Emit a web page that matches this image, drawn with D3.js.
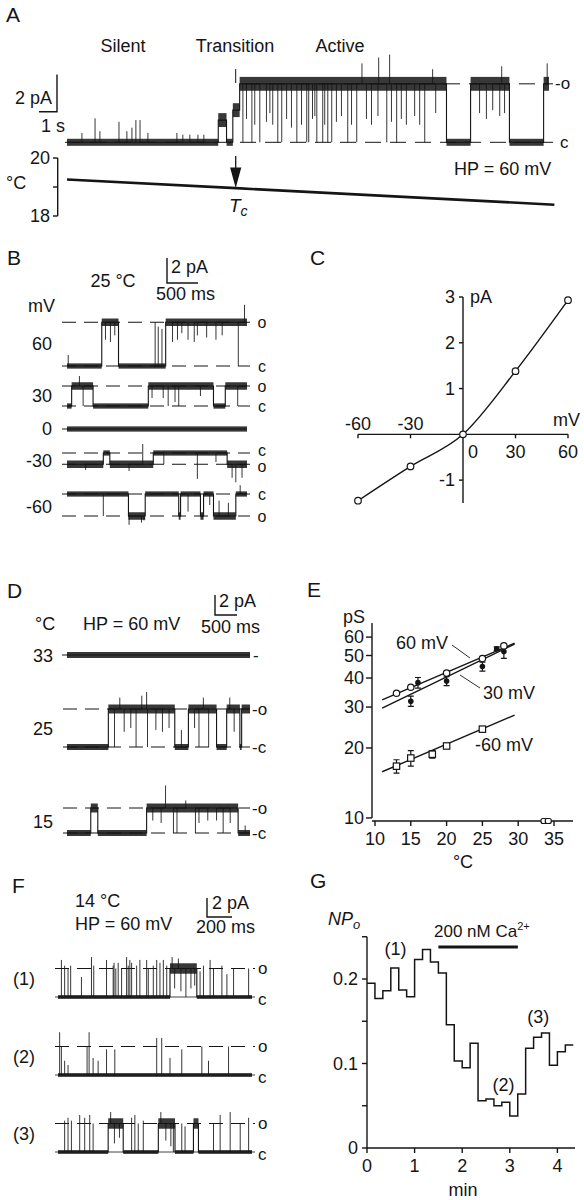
<!DOCTYPE html>
<html><head><meta charset="utf-8">
<script src="https://cdn.jsdelivr.net/npm/d3@7"></script>
<style>
body{margin:0;background:#fff}
svg{display:block}
text{font-family:"Liberation Sans",Arial,Helvetica,sans-serif;fill:#151515}
</style></head><body>
<svg id="fig" width="584" height="1200"></svg>
<script>
// ======================= DATA =======================
// Panel A — time in s; segments [start, end, level as fraction of open current]
const aOpenPA = 3.16;
const aStates = ["Silent", "Transition", "Active"];
const aSegments = [[0,8.41,0],[8.41,8.87,0.38],[8.87,9.22,0],[9.22,9.6,0.55],[9.6,21.1,1],[21.1,22.44,0],[22.44,24.6,1],[24.6,26.5,0],[26.5,26.8,1]];
// brief events [time, level reached (fraction of open)]
const aEvents = [[0.83,0.16],[1.56,0.41],[1.83,0.19],[2.89,0.35],[3.33,0.19],[3.61,0.25],[3.83,0.38],[4.06,0.38],[4.5,0.16],[6.11,0.16],[6.44,0.13],[6.83,0.13],[7.28,0.13],[7.61,0.13],
  [9.78,0],[10.28,0],[10.72,0],[11.72,0],[11.94,0],[12.78,0],[13.33,0],[13.44,0],[13.89,0],[14.22,0],[14.5,0],[14.72,0],[15.61,0],[16.11,0],[17.78,0],[18.33,0],[19.89,0],
  [9.98,0.4],[10.44,0.3],[11.09,0.35],[11.28,0.5],[11.44,0.3],[12.21,0.4],[12.48,0.25],[13.04,0.3],[13.65,0.4],[13.78,0.45],[14.33,0.3],[14.98,0.35],[15.26,0.45],[15.82,0.3],[16.65,0.4],[16.93,0.3],[17.29,0.45],[18.04,0.35],[18.59,0.4],[18.87,0.3],[19.33,0.45],[19.61,0.3],[20.5,0.5],[22.94,0.5],[23.32,0.4],[23.67,0.55],[24.06,0.45],[24.33,0.5],
  [16.4,1.35],[17.33,1.45],[17.94,1.5],[20.33,1.25],[24.17,1.3],[26.7,1.35]];
const aTempTime = [0, 9.39, 27.1];
const aTempC = [19.26, 18.96, 18.39];
const aTempTicks = [18, 19, 20];
const aTempLabels = [18, 20];

// Panel B — holding potentials (mV), unitary current (pA), time in s
const bVoltages = [60, 30, 0, -30, -60];
const bOpenPA = [3.5, 1.6, 0, -0.9, -1.76];
const bSeg60 = [[0,0.56,0],[0.56,0.83,1],[0.83,1.59,0],[1.59,2.9,1]];
const bSeg30 = [[0,0.075,0],[0.075,0.42,1],[0.42,1.31,0],[1.31,2.36,1],[2.36,2.55,0],[2.55,2.9,1]];
const bSeg0 = [[0,2.9,0]];
const bSegM30 = [[0,0.585,1],[0.585,0.69,0],[0.69,1.39,1],[1.39,2.58,0],[2.58,2.9,1]];
const bSegM60 = [[0,0.99,0],[0.99,1.26,1],[1.26,1.8,0],[1.8,1.83,1],[1.83,2.15,0],[2.15,2.2,1],[2.2,2.36,0],[2.36,2.72,1],[2.72,2.9,0]];
const bEv60 = [[0.02,0.25],[0.62,0.6],[0.7,0.55],[0.77,0.7],[1.42,1.0],[1.47,0.9],[1.53,0.85],[1.7,0.55],[1.78,0.6],[1.85,0.75],[1.95,0.6],[2.05,0.55],[2.1,0.7],[2.25,0.65],[2.4,0.6],[2.5,0.7],[2.76,0],[2.86,1.4]];
const bEv30 = [[0.2,1.5],[0.26,0],[1.37,0.4],[1.55,0.4],[1.63,0],[1.74,0.2],[1.8,0],[2.15,0.5],[2.75,0]];
const bEv0 = [];
const bEvM30 = [[0.3,1.5],[1.0,1.6],[1.22,-0.8],[1.56,1],[2.1,2.3],[2.4,0.8],[2.66,2.2],[2.72,2.6],[2.82,2.2]];
const bEvM60 = [[0.585,1.0],[1.0,1.4],[1.2,1.3],[1.24,1.2],[1.95,0.8],[2.3,0.5],[2.45,0.3],[2.6,0.4],[2.79,-0.4]];
const bSegments = [bSeg60, bSeg30, bSeg0, bSegM30, bSegM60];
const bEvents = [bEv60, bEv30, bEv0, bEvM30, bEvM60];

// Panel C — I/V relation
const cVoltage = [-60, -30, 0, 30, 60];
const cCurrent = [-1.45, -0.7, 0, 1.38, 2.93];
const cYTicks = [-1, 1, 2, 3];
const cXTicksAbove = [-60, -30];
const cXTicksBelow = [0, 30, 60];

// Panel D — temperatures (°C), unitary current (pA), time in s
const dTemps = [33, 25, 15];
const dOpenPA = [0, 3.8, 2.5];
const dSeg33 = [[0,4.16,0]];
const dSeg25 = [[0,0.94,0],[0.94,2.45,1],[2.45,2.76,0],[2.76,3.40,1],[3.40,3.63,0],[3.63,3.93,1],[3.93,3.97,0],[3.97,4.16,1]];
const dSeg15 = [[0,0.54,0],[0.54,0.70,1],[0.70,1.81,0],[1.81,3.89,1],[3.89,4.16,0]];
const dEv33 = [];
const dEv25 = [[1.08,0],[1.2,1.3],[1.3,0.4],[1.45,0.5],[1.57,0],[1.7,1.35],[1.81,1.45],[1.83,0],[2.02,0.45],[2.17,0.4],[2.32,0.5],[2.6,0.45],[2.9,0.5],[3.0,0],[3.1,1.3],[3.22,0],[3.7,1.3],[3.8,0.4]];
const dEv15 = [[1.95,0.5],[2.14,0.4],[2.24,1.9],[2.42,0],[2.5,0],[2.7,1.3],[2.92,0],[3.0,0.4],[3.2,0.5],[3.4,0.5],[3.55,0],[3.71,0.4],[4.05,0.3]];
const dSegments = [dSeg33, dSeg25, dSeg15];
const dEvents = [dEv33, dEv25, dEv15];

// Panel E — conductance (pS) vs temperature (°C)
const eTemp60 = [13, 15, 20, 25, 28];
const eG60 = [34.4, 36.5, 42, 48.5, 55];
const eTemp30 = [15, 16, 20, 25, 27, 28];
const eG30 = [31.8, 38.2, 38.8, 44.8, 53.5, 52];
const eErr30 = [1.6, 2, 1.7, 2, 1, 3.4];
const eTempM60 = [13, 15, 18, 20, 25];
const eGM60 = [16.7, 18.1, 18.8, 20.4, 24.1];
const eErrM60 = [1.1, 1.4, 0.7, 0, 0];
const eTempSilent = [33.6, 34.2];
const eGSilent = [9.7, 9.7];
const eFitT = [11, 29.5];
const eFit60 = [32.2, 56.5];
const eFit30 = [29.7, 56];
const eFitM60 = [15.8, 27.7];
const eXTicks = [10, 15, 20, 25, 30, 35];
const eYTicks = [10, 20, 30, 40, 50, 60];
const eSeriesNames = ["60 mV", "30 mV", "-60 mV"];

// Panel F — 14 °C, HP = 60 mV, time in s
const fLabels = ["(1)", "(2)", "(3)"];
const fOpenPA = 3.0;
const fSeg1 = [[0,0.893,0],[0.893,1.107,1],[1.107,1.547,0]];
const fSeg2 = [[0,1.547,0]];
const fSeg3 = [[0,0.4,0],[0.4,0.52,1],[0.52,0.8,0],[0.8,0.933,1],[0.933,1.08,0],[1.08,1.12,1],[1.12,1.547,0]];
const fEv1 = [[0.027,1.3],[0.053,1.1],[0.08,1.0],[0.101,1.1],[0.187,0.7],[0.267,1.4],[0.285,1.1],[0.387,1.3],[0.44,1.1],[0.447,1.2],[0.461,1.0],[0.48,1.2],[0.507,1.0],[0.547,1.4],[0.56,1.1],[0.573,1.3],[0.587,1.2],[0.627,1.1],[0.653,1.3],[0.707,1.3],[0.72,1.0],[0.76,1.1],[0.787,1.3],[0.813,1.2],[0.84,1.3],[0.867,1.1],
  [0.91,1.4],[0.93,0.3],[0.96,1.35],[0.98,0.2],[1.02,0],[1.06,0.3],[1.09,0.4],
  [1.133,0.9],[1.16,1.1],[1.213,1.3],[1.24,1.0],[1.307,1.1],[1.347,0.8],[1.4,1.0],[1.52,1.0]];
const fEv2 = [[0.013,1.5],[0.027,1.0],[0.053,0.5],[0.08,0.35],[0.232,1.0],[0.248,1.5],[0.28,0.6],[0.32,0.5],[0.387,0.9],[0.453,0.9],[0.787,1.3],[0.827,1.3],[0.893,0.6],[0.987,0.9],[1.147,1.0],[1.2,0.5],[1.36,1.0]];
const fEv3 = [[0.053,1.1],[0.08,1.2],[0.107,1.1],[0.173,1.3],[0.213,1.2],[0.253,1.3],[0.28,1.0],[0.42,1.4],[0.45,0.3],[0.49,0.5],[0.587,1.2],[0.613,1.3],[0.64,1.0],[0.68,1.1],[0.82,1.4],[0.86,0.4],[0.9,0.2],[0.92,0],[0.987,1.0],[1.013,0.9],[1.24,1.0],[1.293,1.3],[1.373,1.4],[1.453,1.0],[1.52,1.2]];
const fSegments = [fSeg1, fSeg2, fSeg3];
const fEvents = [fEv1, fEv2, fEv3];

// Panel G — NPo in 10-s bins (time in min)
const gBinStart = [0,0.167,0.333,0.5,0.667,0.833,1,1.167,1.333,1.5,1.667,1.833,2,2.167,2.333,2.5,2.667,2.833,3,3.167,3.333,3.5,3.667,3.833,4,4.167];
const gBinEnd = 4.333;
const gNPo = [0.195,0.177,0.186,0.213,0.187,0.179,0.223,0.235,0.220,0.207,0.146,0.103,0.095,0.124,0.056,0.058,0.050,0.054,0.038,0.064,0.118,0.131,0.136,0.098,0.114,0.122];
const gCaOn = [1.5, 3.17];
const gXTicks = [0, 1, 2, 3, 4];
const gYTicks = [0, 0.05, 0.1, 0.15, 0.2, 0.25];
const gYLabels = [0, 0.1, 0.2];
const gMarks = [["(1)", 0.6, 0.235], ["(2)", 2.87, 0.075], ["(3)", 3.6, 0.155]];

// ======================= DRAWING =======================
const INK = "#151515";
const svg = d3.select("#fig");

function txt(g, x, y, s, o = {}) {
  const t = g.append("text").attr("x", x).attr("y", y).text(s)
    .attr("font-size", o.size || 18)
    .attr("text-anchor", o.anchor || "start");
  if (o.italic) t.attr("font-style", "italic");
  if (o.mid) t.attr("dominant-baseline", "central");
  return t;
}
function path(g, d, w = 1.3) {
  return g.append("path").attr("d", d).attr("fill", "none").attr("stroke", INK).attr("stroke-width", w);
}
function hline(g, x1, x2, y, dash, w = 1) {
  const l = g.append("line").attr("x1", x1).attr("x2", x2).attr("y1", y).attr("y2", y)
    .attr("stroke", INK).attr("stroke-width", w);
  if (dash) l.attr("stroke-dasharray", dash);
  return l;
}
// single-channel trace: bands for noise, step line, brief events
function trace(g, xs, base, pxPerPA, amp, segs, events, nC, nO) {
  const ys = d3.scaleLinear().domain([0, 1]).range([base, base - pxPerPA]);
  const lev = f => f * amp;
  const noise = d => (d[2] !== 0 && amp !== 0) ? nO : nC;
  g.append("g").selectAll("rect").data(segs).join("rect")
    .attr("x", d => xs(d[0]))
    .attr("width", d => Math.max(0.6, xs(d[1]) - xs(d[0])))
    .attr("y", d => Math.min(ys(lev(d[2]) + noise(d) / 2), ys(lev(d[2]) - noise(d) / 2)))
    .attr("height", d => Math.abs(ys(noise(d)) - ys(0)))
    .attr("fill", INK).attr("opacity", 0.85);
  const pts = [];
  segs.forEach(d => { pts.push([d[0], lev(d[2])]); pts.push([d[1], lev(d[2])]); });
  g.append("path").attr("d", d3.line().x(p => xs(p[0])).y(p => ys(p[1]))(pts))
    .attr("fill", "none").attr("stroke", INK).attr("stroke-width", 1.1);
  g.append("g").selectAll("line").data(events).join("line")
    .attr("x1", d => xs(d[0])).attr("x2", d => xs(d[0]))
    .attr("y1", d => { const s = segs.find(s => d[0] >= s[0] && d[0] <= s[1]) || segs[0]; return ys(lev(s[2])); })
    .attr("y2", d => ys(lev(d[1])))
    .attr("stroke", INK).attr("stroke-width", 1).attr("opacity", 0.85);
  return y => ys(lev(y));
}
function scaleBar(g, x, yTop, yBot, xRight) {
  path(g, `M${x},${yTop}V${yBot}H${xRight}`, 1.4);
}

// ---------------- Panel A ----------------
{
  const g = svg.append("g");
  txt(g, 6, 22, "A", { size: 21 });
  const stateX = [123, 235, 340];
  aStates.forEach((s, i) => txt(g, stateX[i], 52, s, { anchor: "middle" }));
  g.append("line").attr("x1", 235.7).attr("x2", 235.7).attr("y1", 69).attr("y2", 83).attr("stroke", INK).attr("stroke-width", 1);
  scaleBar(g, 57, 74.5, 111.7, 39);
  txt(g, 15, 104, "2 pA");
  txt(g, 41, 132, "1 s");
  const xs = d3.scaleLinear().domain([0, 26.8]).range([67, 549]);
  const base = 142.3, ppa = 18.5;
  hline(g, 65, 553, base, "16,9", 1);
  hline(g, 244, 553, base - aOpenPA * ppa, "16,9", 1);
  trace(g, xs, base, ppa, aOpenPA, aSegments, aEvents, 0.38, 0.75);
  txt(g, 555, base - aOpenPA * ppa, "-o", { size: 17, mid: true });
  txt(g, 560, base, "c", { size: 17, mid: true });
  // temperature
  const yt = d3.scaleLinear().domain([18, 20]).range([216, 158]);
  g.append("line").attr("x1", 57.7).attr("x2", 57.7).attr("y1", yt(20)).attr("y2", yt(18)).attr("stroke", INK).attr("stroke-width", 1.4);
  aTempTicks.forEach(v => g.append("line").attr("x1", 53).attr("x2", 57.7).attr("y1", yt(v)).attr("y2", yt(v)).attr("stroke", INK).attr("stroke-width", 1.4));
  aTempLabels.forEach(v => txt(g, 50, yt(v), v, { anchor: "end", mid: true }));
  txt(g, 6, 182.5, "°C", { mid: true });
  const tempPts = aTempTime.map((t, i) => [t, aTempC[i]]);
  path(g, d3.line().x(p => xs(p[0])).y(p => yt(p[1]))(tempPts), 2.6);
  // Tc arrow
  g.append("line").attr("x1", 235.7).attr("x2", 235.7).attr("y1", 156).attr("y2", 168).attr("stroke", INK).attr("stroke-width", 1.3);
  g.append("path").attr("d", "M230.1,167.6L241.3,167.6L235.7,188Z").attr("fill", INK);
  const tc = txt(g, 229, 212, "T", { size: 19, italic: true });
  tc.append("tspan").attr("font-size", 14).attr("dy", 4).text("c");
  txt(g, 454, 175, "HP = 60 mV");
}

// ---------------- Panel B ----------------
{
  const g = svg.append("g");
  txt(g, 7, 265, "B", { size: 21 });
  txt(g, 113, 287, "25 °C", { anchor: "middle" });
  scaleBar(g, 167, 258, 283, 198);
  txt(g, 171, 273, "2 pA");
  txt(g, 156, 300, "500 ms");
  txt(g, 28, 312, "mV");
  const xs = d3.scaleLinear().domain([0, 2.9]).range([67, 247]);
  const bases = [366, 406, 429, 453, 494], ppa = 12.5;
  bVoltages.forEach((v, i) => {
    const amp = bOpenPA[i], b = bases[i];
    const oy = b - amp * ppa;
    if (amp !== 0) {
      hline(g, 62, 250, b, "14,8");
      hline(g, 62, 250, oy, "14,8");
      const tight = Math.abs(oy - b) < 15;
      txt(g, 262, oy + (tight ? 2 : 0), "o", { size: 16, anchor: "middle", mid: true });
      txt(g, 262, b - (tight ? 3 : 0), "c", { size: 16, anchor: "middle", mid: true });
    } else {
      hline(g, 62, 68, b, null);
    }
    trace(g, xs, b, ppa, amp, bSegments[i], bEvents[i], 0.42, 0.6);
    txt(g, 52, (b + oy) / 2 + (amp < 0 ? 2 : 0), v, { anchor: "end", mid: true });
  });
}

// ---------------- Panel C ----------------
{
  const g = svg.append("g");
  txt(g, 310, 265, "C", { size: 21 });
  const xs = d3.scaleLinear().domain([-60, 60]).range([358, 568]);
  const ys = d3.scaleLinear().domain([-1.5, 3]).range([503, 297]);
  g.append("line").attr("x1", xs(0)).attr("x2", xs(0)).attr("y1", ys(3)).attr("y2", ys(-1.5)).attr("stroke", INK).attr("stroke-width", 1.4);
  g.append("line").attr("x1", xs(-60)).attr("x2", xs(60)).attr("y1", ys(0)).attr("y2", ys(0)).attr("stroke", INK).attr("stroke-width", 1.4);
  cYTicks.forEach(v => {
    g.append("line").attr("x1", xs(0) - 4).attr("x2", xs(0)).attr("y1", ys(v)).attr("y2", ys(v)).attr("stroke", INK).attr("stroke-width", 1.4);
    txt(g, xs(0) - 8, ys(v), v, { anchor: "end", mid: true });
  });
  [...cXTicksAbove, ...cXTicksBelow].filter(v => v !== 0).forEach(v =>
    g.append("line").attr("x1", xs(v)).attr("x2", xs(v)).attr("y1", ys(0)).attr("y2", ys(0) + 4).attr("stroke", INK).attr("stroke-width", 1.4));
  cXTicksAbove.forEach(v => txt(g, xs(v), ys(0) - 4, v, { anchor: "middle" }));
  cXTicksBelow.forEach(v => txt(g, xs(v) + (v === 0 ? 10 : 0), ys(0) + 24, v, { anchor: "middle" }));
  txt(g, xs(0) + 7, ys(3), "pA", { mid: true });
  txt(g, 553, ys(0) - 8, "mV");
  const pts = cVoltage.map((v, i) => [v, cCurrent[i]]);
  path(g, d3.line().curve(d3.curveMonotoneX).x(p => xs(p[0])).y(p => ys(p[1]))(pts), 1.4);
  g.selectAll("circle.c").data(pts).join("circle").attr("class", "c")
    .attr("cx", p => xs(p[0])).attr("cy", p => ys(p[1])).attr("r", 3.3)
    .attr("fill", "#fff").attr("stroke", INK).attr("stroke-width", 1.2);
}

// ---------------- Panel D ----------------
{
  const g = svg.append("g");
  txt(g, 7, 598, "D", { size: 21 });
  scaleBar(g, 215, 595, 615, 237);
  txt(g, 219, 607, "2 pA");
  txt(g, 201, 633, "500 ms");
  txt(g, 35, 630, "°C");
  txt(g, 83, 630, "HP = 60 mV");
  const xs = d3.scaleLinear().domain([0, 4.16]).range([67, 250]);
  const bases = [655, 747, 833], ppa = 10;
  dTemps.forEach((v, i) => {
    const amp = dOpenPA[i], b = bases[i];
    const oy = b - amp * ppa;
    if (amp !== 0) {
      hline(g, 63, 250, b, "14,8");
      hline(g, 63, 250, oy, "14,8");
      txt(g, 252, oy, "-o", { size: 17, mid: true });
      txt(g, 252, b, "-c", { size: 17, mid: true });
    } else {
      hline(g, 62, 68, b, null);
      txt(g, 253, b, "-", { size: 17, mid: true });
    }
    trace(g, xs, b, ppa, amp, dSegments[i], dEvents[i], 0.6, 0.9);
    txt(g, 53, (b + oy) / 2 + 1, v, { anchor: "end", mid: true });
  });
}

// ---------------- Panel E ----------------
{
  const g = svg.append("g");
  txt(g, 307, 597, "E", { size: 21 });
  const xs = d3.scaleLinear().domain([10, 35]).range([375, 554]);
  const ys = d3.scaleLog().domain([9.7, 69]).range([821, 623]);
  g.append("line").attr("x1", 372).attr("x2", 372).attr("y1", 623).attr("y2", ys(10)).attr("stroke", INK).attr("stroke-width", 1.4);
  g.append("line").attr("x1", 372).attr("x2", 573).attr("y1", 821).attr("y2", 821).attr("stroke", INK).attr("stroke-width", 1.4);
  eYTicks.forEach(v => {
    g.append("line").attr("x1", 366).attr("x2", 372).attr("y1", ys(v)).attr("y2", ys(v)).attr("stroke", INK).attr("stroke-width", 1.4);
    txt(g, 364, ys(v), v, { anchor: "end", mid: true });
  });
  eXTicks.forEach(v => {
    g.append("line").attr("x1", xs(v)).attr("x2", xs(v)).attr("y1", 821).attr("y2", 826).attr("stroke", INK).attr("stroke-width", 1.4);
    txt(g, xs(v), 845, v, { anchor: "middle" });
  });
  txt(g, 463, 868, "°C", { anchor: "middle" });
  txt(g, 343, 623, "pS");
  // fit lines
  [eFit60, eFit30, eFitM60].forEach(f => {
    const pts = eFitT.map((t, i) => [t, f[i]]);
    path(g, d3.line().x(p => xs(p[0])).y(p => ys(p[1]))(pts), 1.4);
  });
  // error bars
  const err = (T, G, E) => T.forEach((t, i) => {
    if (!E[i]) return;
    const x = xs(t), y1 = ys(G[i] - E[i]), y2 = ys(G[i] + E[i]);
    path(g, `M${x},${y1}V${y2}M${x - 3},${y1}H${x + 3}M${x - 3},${y2}H${x + 3}`, 1.2);
  });
  err(eTemp30, eG30, eErr30);
  err(eTempM60, eGM60, eErrM60);
  // markers
  g.selectAll("rect.sq").data(eTempM60.map((t, i) => [t, eGM60[i]])).join("rect").attr("class", "sq")
    .attr("x", p => xs(p[0]) - 3.2).attr("y", p => ys(p[1]) - 3.2).attr("width", 6.4).attr("height", 6.4)
    .attr("fill", "#fff").attr("stroke", INK).attr("stroke-width", 1.2);
  g.selectAll("circle.o60").data(eTemp60.map((t, i) => [t, eG60[i]])).join("circle").attr("class", "o60")
    .attr("cx", p => xs(p[0])).attr("cy", p => ys(p[1])).attr("r", 3.2)
    .attr("fill", "#fff").attr("stroke", INK).attr("stroke-width", 1.2);
  g.selectAll("circle.f30").data(eTemp30.map((t, i) => [t, eG30[i]])).join("circle").attr("class", "f30")
    .attr("cx", p => xs(p[0])).attr("cy", p => ys(p[1])).attr("r", 2.8).attr("fill", INK);
  g.selectAll("rect.sil").data(eTempSilent.map((t, i) => [t, eGSilent[i]])).join("rect").attr("class", "sil")
    .attr("x", p => xs(p[0]) - 3).attr("y", p => ys(p[1]) - 2.5).attr("width", 6).attr("height", 5).attr("rx", 2)
    .attr("fill", "#fff").attr("stroke", INK).attr("stroke-width", 1.2);
  // series labels
  txt(g, 396, 643, eSeriesNames[0], { mid: true });
  path(g, "M452,645L470,658", 0.9);
  txt(g, 483, 693, eSeriesNames[1], { mid: true });
  path(g, "M460,675L480,688", 0.9);
  txt(g, 475, 745, eSeriesNames[2], { mid: true });
}

// ---------------- Panel F ----------------
{
  const g = svg.append("g");
  txt(g, 12, 893, "F", { size: 21 });
  txt(g, 75, 907, "14 °C");
  txt(g, 75, 930, "HP = 60 mV");
  scaleBar(g, 207, 898, 917, 232);
  txt(g, 212, 909, "2 pA");
  txt(g, 196, 933, "200 ms");
  const xs = d3.scaleLinear().domain([0, 1.547]).range([58, 252]);
  const bases = [997, 1075, 1152], ppa = 9.5;
  fLabels.forEach((lab, i) => {
    const b = bases[i], oy = b - fOpenPA * ppa;
    hline(g, 55, 255, oy, "14,8");
    hline(g, 55, 255, b, null, 0.8);
    trace(g, xs, b, ppa, fOpenPA, fSegments[i], fEvents[i], 0.4, 1.1);
    txt(g, 258, oy, "o", { size: 17, mid: true });
    txt(g, 258, b + 2, "c", { size: 17, mid: true });
    txt(g, 13, oy + 10, lab, { mid: true });
  });
}

// ---------------- Panel G ----------------
{
  const g = svg.append("g");
  txt(g, 310, 888, "G", { size: 21 });
  const np = txt(g, 328, 925, "NP", { italic: true });
  np.append("tspan").attr("font-size", 13).attr("dy", 4).text("o");
  const xs = d3.scaleLinear().domain([0, 4.37]).range([367, 575]);
  const ys = d3.scaleLinear().domain([0, 0.25]).range([1148, 936.75]);
  g.append("line").attr("x1", xs(0)).attr("x2", xs(0)).attr("y1", ys(0.25)).attr("y2", ys(0)).attr("stroke", INK).attr("stroke-width", 1.4);
  g.append("line").attr("x1", xs(0)).attr("x2", xs(4.37)).attr("y1", ys(0)).attr("y2", ys(0)).attr("stroke", INK).attr("stroke-width", 1.4);
  gYTicks.forEach(v => g.append("line").attr("x1", xs(0) - 5).attr("x2", xs(0)).attr("y1", ys(v)).attr("y2", ys(v)).attr("stroke", INK).attr("stroke-width", 1.4));
  gYLabels.forEach(v => txt(g, 358, ys(v), v, { anchor: "end", mid: true }));
  gXTicks.forEach(v => {
    g.append("line").attr("x1", xs(v)).attr("x2", xs(v)).attr("y1", ys(0)).attr("y2", ys(0) + 5).attr("stroke", INK).attr("stroke-width", 1.4);
    txt(g, xs(v), 1172, v, { anchor: "middle" });
  });
  txt(g, 463, 1196, "min", { anchor: "middle" });
  const pts = gBinStart.map((t, i) => [t, gNPo[i]]);
  pts.push([gBinEnd, gNPo[gNPo.length - 1]]);
  path(g, d3.line().curve(d3.curveStepAfter).x(p => xs(p[0])).y(p => ys(p[1]))(pts), 1.5);
  // Ca bar
  g.append("line").attr("x1", xs(gCaOn[0])).attr("x2", xs(gCaOn[1])).attr("y1", 947).attr("y2", 947).attr("stroke", INK).attr("stroke-width", 3);
  const ca = txt(g, 434, 937, "200 nM Ca", { size: 17 });
  ca.append("tspan").attr("font-size", 11).attr("dy", -7).text("2+");
  gMarks.forEach(m => txt(g, xs(m[1]), ys(m[2]), m[0], { anchor: "middle", mid: true }));
}
</script></body></html>
